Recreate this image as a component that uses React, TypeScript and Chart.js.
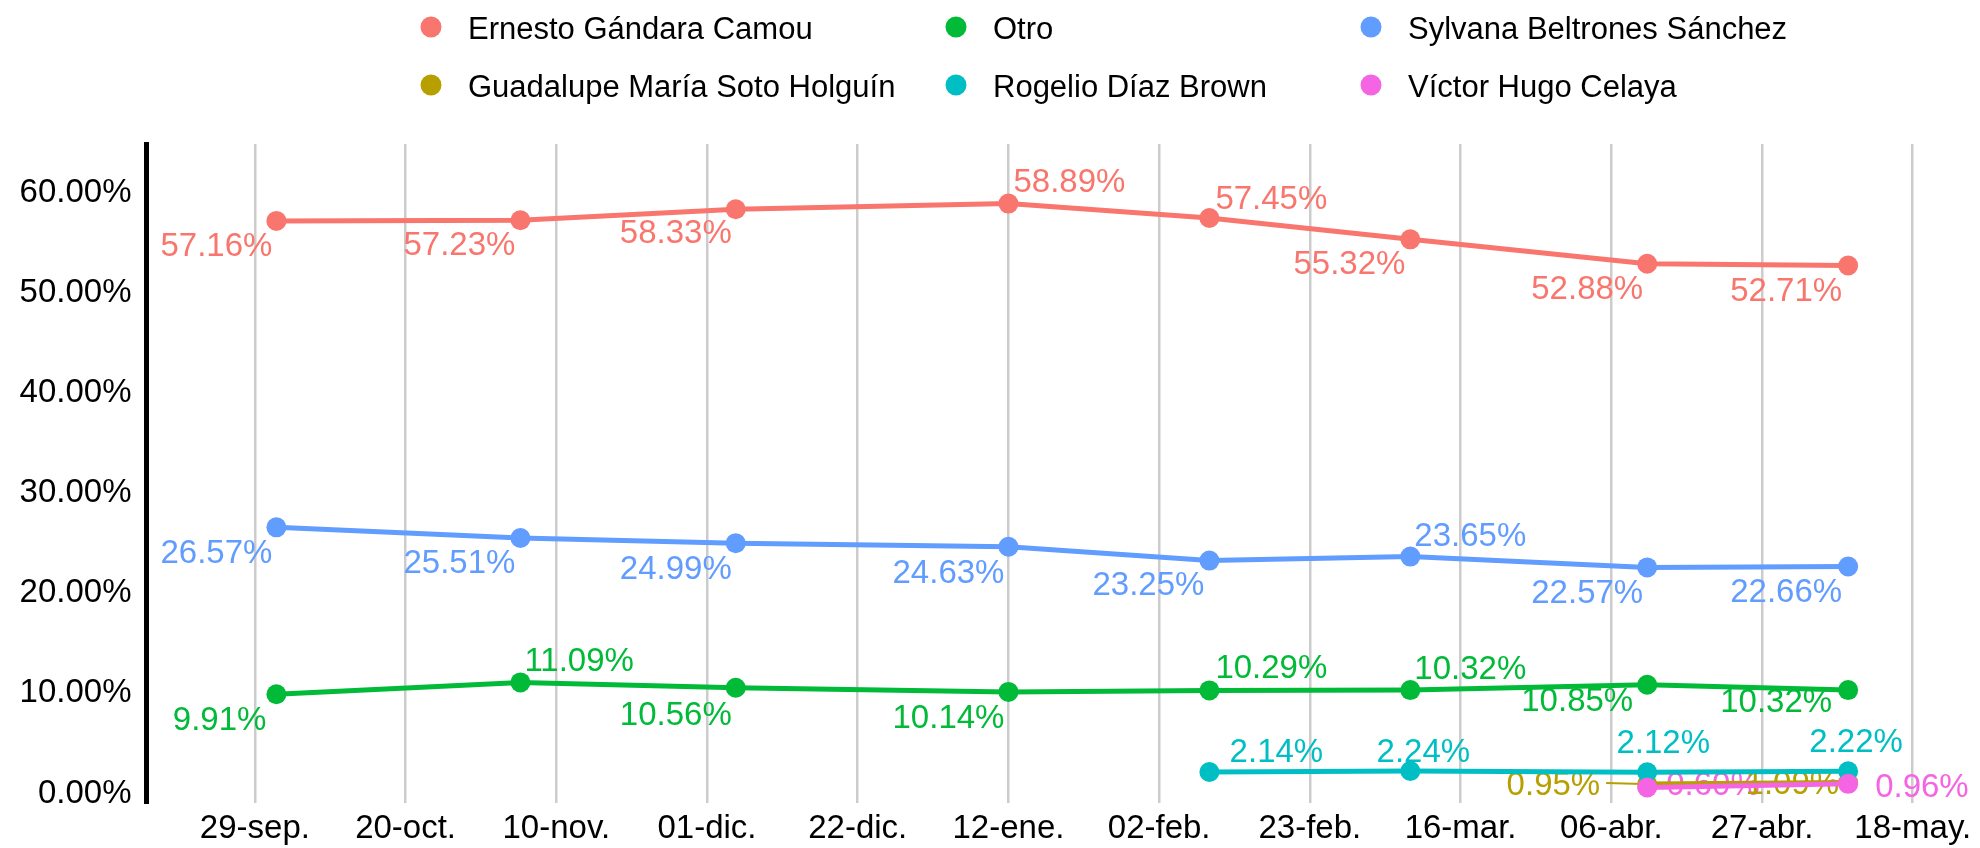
import React, { useEffect, useRef } from 'react';
import { Chart, registerables } from 'chart.js';

Chart.register(...registerables);

const FONT = "'Liberation Sans', Arial, Helvetica, sans-serif";

// Days since 29-sep for each poll
const pollDays = [3, 37, 67, 105, 133, 161, 194, 222];

// X axis ticks (every 21 days from 29-sep)
const xTickDays = [0, 21, 42, 63, 84, 105, 126, 147, 168, 189, 210, 231];
const xTickLabels = [
  '29-sep.', '20-oct.', '10-nov.', '01-dic.', '22-dic.', '12-ene.',
  '02-feb.', '23-feb.', '16-mar.', '06-abr.', '27-abr.', '18-may.',
];
const yTickValues = [0, 10, 20, 30, 40, 50, 60];

// Series (percent)
const ernestoValues = [57.16, 57.23, 58.33, 58.89, 57.45, 55.32, 52.88, 52.71];
const guadalupeValues = [null, null, null, null, null, null, 0.95, 1.09];
const otroValues = [9.91, 11.09, 10.56, 10.14, 10.29, 10.32, 10.85, 10.32];
const rogelioValues = [null, null, null, null, 2.14, 2.24, 2.12, 2.22];
const sylvanaValues = [26.57, 25.51, 24.99, 24.63, 23.25, 23.65, 22.57, 22.66];
const victorValues = [null, null, null, null, null, null, 0.6, 0.96];

const seriesNames = [
  'Ernesto Gándara Camou',
  'Guadalupe María Soto Holguín',
  'Otro',
  'Rogelio Díaz Brown',
  'Sylvana Beltrones Sánchez',
  'Víctor Hugo Celaya',
];
const seriesColors = ['#F8766D', '#B79F00', '#00BA38', '#00BFC4', '#619CFF', '#F564E3'];

// Label placement relative to each point: [align, dx, dy, segment]
type Spec = [string, number, number, boolean?] | null;
const ernestoLabelPos: Spec[] = [
  ['r', -4, 23], ['r', -5, 23], ['r', -4, 22], ['l', 5, -23],
  ['l', 6, -21], ['r', -5, 23], ['r', -4, 23], ['r', -6, 24],
];
const guadalupeLabelPos: Spec[] = [null, null, null, null, null, null, ['r', -47, -1, true], ['r', -9, 0]];
const otroLabelPos: Spec[] = [
  ['r', -10, 24], ['l', 4, -23], ['r', -4, 25], ['r', -4, 24],
  ['l', 6, -24], ['l', 4, -23], ['r', -14, 14], ['r', -16, 10],
];
const rogelioLabelPos: Spec[] = [null, null, null, null, ['c', 67, -22], ['c', 13, -21], ['c', 16, -31], ['c', 8, -31]];
const sylvanaLabelPos: Spec[] = [
  ['r', -4, 24], ['r', -5, 23], ['r', -4, 24], ['r', -4, 24],
  ['r', -5, 23], ['l', 4, -22], ['r', -4, 24], ['r', -6, 24],
];
const victorLabelPos: Spec[] = [null, null, null, null, null, null, ['l', 19, -4], ['l', 27, 1]];

const allValues = [ernestoValues, guadalupeValues, otroValues, rogelioValues, sylvanaValues, victorValues];
const allLabelPos = [ernestoLabelPos, guadalupeLabelPos, otroLabelPos, rogelioLabelPos, sylvanaLabelPos, victorLabelPos];

const series = seriesNames.map((name, si) => {
  const pts: { x: number; y: number }[] = [];
  const specs: Spec[] = [];
  allValues[si].forEach((v, i) => {
    if (v !== null && v !== undefined) {
      pts.push({ x: pollDays[i], y: v as number });
      specs.push(allLabelPos[si][i]);
    }
  });
  return { name, color: seriesColors[si], points: pts, specs };
});

// label drawing order (Víctor first so others draw over it)
const labelDrawOrder = [5, 0, 2, 3, 4, 1];

const LABEL_SIZE = 33;

const pointLabelPlugin = {
  id: 'pointLabels',
  beforeDatasetsDraw(chart: any) {
    const ctx = chart.ctx as CanvasRenderingContext2D;
    ctx.save();
    ctx.font = `${LABEL_SIZE}px ${FONT}`;
    ctx.textBaseline = 'alphabetic';
    labelDrawOrder.forEach((si) => {
      const s = series[si];
      const meta = chart.getDatasetMeta(si);
      s.points.forEach((p, j) => {
        const spec = s.specs[j];
        const el = meta.data[j];
        if (!spec || !el) return;
        const [al, dx, dy, seg] = spec;
        const text = p.y.toFixed(2) + '%';
        ctx.fillStyle = s.color;
        ctx.textAlign = al === 'r' ? 'right' : al === 'l' ? 'left' : 'center';
        const x = el.x + dx;
        const yc = el.y + dy;
        ctx.fillText(text, x, yc + 0.358 * LABEL_SIZE);
        if (seg) {
          ctx.strokeStyle = s.color;
          ctx.lineWidth = 2;
          ctx.beginPath();
          ctx.moveTo(x + 6, yc);
          ctx.lineTo(el.x - 4, el.y);
          ctx.stroke();
        }
      });
    });
    ctx.restore();
  },
};

// Legend laid out in 3 columns x 2 rows (column-major)
const legendColX = [431, 956, 1371];
const legendRowY = [27, 85];

const legendPlugin = {
  id: 'gridLegend',
  afterDraw(chart: any) {
    const ctx = chart.ctx as CanvasRenderingContext2D;
    ctx.save();
    ctx.font = `31px ${FONT}`;
    ctx.textAlign = 'left';
    ctx.textBaseline = 'alphabetic';
    series.forEach((s, k) => {
      const cx = legendColX[Math.floor(k / 2)];
      const cy = legendRowY[k % 2];
      ctx.fillStyle = s.color;
      ctx.beginPath();
      ctx.arc(cx, cy, 10.5, 0, Math.PI * 2);
      ctx.fill();
      ctx.fillStyle = '#000000';
      ctx.fillText(s.name, cx + 37, cy + 1 + 0.358 * 31);
    });
    ctx.restore();
  },
};

export default function App() {
  const canvasRef = useRef<HTMLCanvasElement | null>(null);

  useEffect(() => {
    document.body.style.margin = '0';
    const canvas = canvasRef.current;
    if (!canvas) return;
    const chart = new Chart(canvas, {
      type: 'line',
      data: {
        datasets: series.map((s, si) => ({
          label: s.name,
          data: s.points,
          borderColor: s.color,
          backgroundColor: s.color,
          pointBackgroundColor: s.color,
          pointBorderWidth: 0,
          borderWidth: 5,
          pointRadius: 10,
          pointHoverRadius: 10,
          tension: 0,
          fill: false,
          order: seriesNames.length - si,
        })),
      },
      options: {
        animation: false,
        responsive: false,
        devicePixelRatio: 1,
        events: [],
        layout: { padding: { top: 144, right: 40, left: 0, bottom: 0 } },
        plugins: {
          legend: { display: false },
          tooltip: { enabled: false },
          title: { display: false },
        },
        scales: {
          x: {
            type: 'linear',
            min: -15.1,
            max: 234.8,
            afterBuildTicks: (scale: any) => {
              scale.ticks = xTickDays.map((v) => ({ value: v }));
            },
            afterFit: (scale: any) => {
              scale.height = 45;
            },
            ticks: {
              autoSkip: false,
              maxRotation: 0,
              minRotation: 0,
              padding: 6,
              color: '#000000',
              font: { family: FONT, size: 33 },
              callback: (v: any) => {
                const idx = xTickDays.indexOf(Number(v));
                return idx >= 0 ? xTickLabels[idx] : '';
              },
            },
            grid: { color: '#cccccc', lineWidth: 2.5, drawTicks: false },
            border: { display: false },
          },
          y: {
            type: 'linear',
            min: -0.95,
            max: 64.84,
            afterBuildTicks: (scale: any) => {
              scale.ticks = yTickValues.map((v) => ({ value: v }));
            },
            afterFit: (scale: any) => {
              scale.width = 146.5;
            },
            ticks: {
              padding: 15,
              color: '#000000',
              font: { family: FONT, size: 33 },
              callback: (v: any) => Number(v).toFixed(2) + '%',
            },
            grid: { display: false, drawTicks: false },
            border: { display: true, color: '#000000', width: 5 },
          },
        },
      },
      plugins: [pointLabelPlugin, legendPlugin],
    } as any);
    return () => chart.destroy();
  }, []);

  return (
    <div style={{ width: 1980, height: 848, background: '#ffffff' }}>
      <canvas ref={canvasRef} width={1980} height={848} style={{ width: 1980, height: 848, display: 'block' }} />
    </div>
  );
}
